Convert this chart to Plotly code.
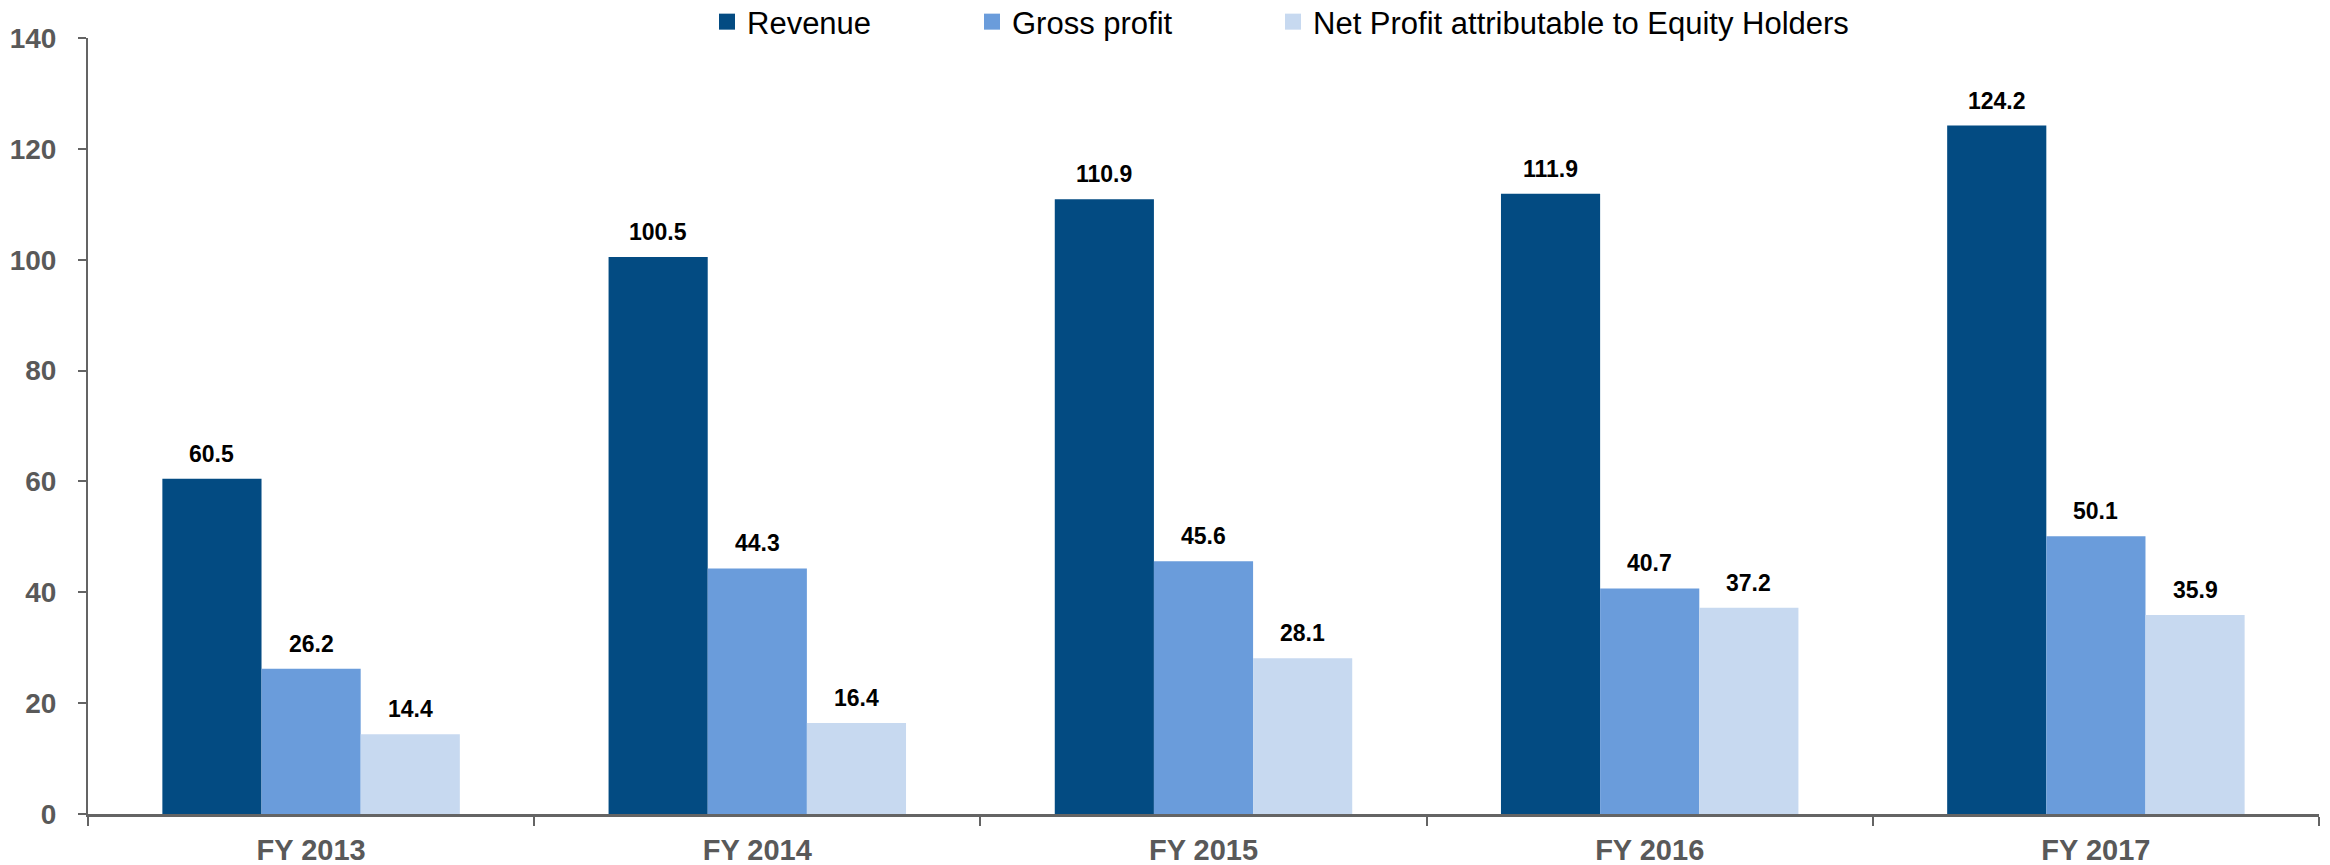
import plotly.graph_objects as go

categories = ["FY 2013", "FY 2014", "FY 2015", "FY 2016", "FY 2017"]
revenue = [60.5, 100.5, 110.9, 111.9, 124.2]
gross_profit = [26.2, 44.3, 45.6, 40.7, 50.1]
net_profit = [14.4, 16.4, 28.1, 37.2, 35.9]
series_names = ["Revenue", "Gross profit", "Net Profit attributable to Equity Holders"]
colors = ["#034B82", "#6A9CDB", "#C7D9F0"]
y_ticks = [0, 20, 40, 60, 80, 100, 120, 140]

W, H = 2330, 865
ML, MR, MT, MB = 88, 11, 38, 51
BARGAP = 1 / 3
FONT = "Liberation Sans, Arial, sans-serif"
GRAY = "#595959"
AXIS = "#646464"

series = [revenue, gross_profit, net_profit]
fig = go.Figure()

for name, vals, col in zip(series_names, series, colors):
    fig.add_trace(go.Bar(
        x=categories, y=vals, name=name, marker=dict(color=col, line=dict(width=0)),
        showlegend=False, hoverinfo="x+y",
    ))

# legend entries (one legend each so spacing matches the reference)
legend_x_px = [707, 972, 1273]
plot_w = W - ML - MR
plot_h = H - MT - MB
legend_ids = ["legend", "legend2", "legend3"]
for i, (name, col) in enumerate(zip(series_names, colors)):
    fig.add_trace(go.Scatter(
        x=[None], y=[None], mode="markers", name=name,
        marker=dict(symbol="square", size=16, color=col),
        legend=legend_ids[i], showlegend=True,
    ))

leg_y = 1 + 16 / plot_h
legend_common = dict(
    orientation="h", yanchor="middle", y=leg_y, xanchor="left",
    font=dict(family=FONT, size=31, color="#000000"),
    bgcolor="rgba(0,0,0,0)", itemwidth=30, borderwidth=0,
)
layout_legends = {}
for i, lid in enumerate(legend_ids):
    layout_legends[lid] = dict(legend_common, x=(legend_x_px[i] - ML) / plot_w)

# data labels via annotations in category coordinates
n = len(series)
bar_w = (1 - BARGAP) / n
annotations = []
for si, vals in enumerate(series):
    off = (si - (n - 1) / 2) * bar_w
    for ci, v in enumerate(vals):
        annotations.append(dict(
            x=ci + off, y=v, xref="x", yref="y", text=f"{v:.1f}", showarrow=False,
            yanchor="bottom", xanchor="center", yshift=10,
            font=dict(family=FONT, size=23, color="#000000", weight="bold"),
        ))

fig.update_layout(
    width=W, height=H,
    margin=dict(l=ML, r=MR, t=MT, b=MB, pad=0, autoexpand=False),
    paper_bgcolor="white", plot_bgcolor="white",
    barmode="group", bargap=BARGAP, bargroupgap=0,
    annotations=annotations,
    **layout_legends,
)

fig.update_xaxes(
    type="category", categoryorder="array", categoryarray=categories,
    showline=True, linecolor=AXIS, linewidth=3,
    ticks="outside", tickson="boundaries", ticklen=9, tickwidth=2, tickcolor=AXIS,
    showgrid=False, zeroline=False,
    tickfont=dict(family=FONT, size=29, color=GRAY, weight="bold"),
    ticklabelstandoff=8,
)
fig.update_yaxes(
    range=[0, 140], tickvals=y_ticks, ticktext=[str(t) for t in y_ticks],
    showline=True, linecolor=AXIS, linewidth=2,
    ticks="outside", ticklen=8, tickwidth=2, tickcolor=AXIS,
    showgrid=False, zeroline=False,
    tickfont=dict(family=FONT, size=28, color=GRAY, weight="bold"),
    ticklabelstandoff=16,
)

fig.write_html(
    "out.html",
    config={"displayModeBar": False},
    post_script="document.body.style.margin='0';document.body.style.overflow='hidden';",
)
